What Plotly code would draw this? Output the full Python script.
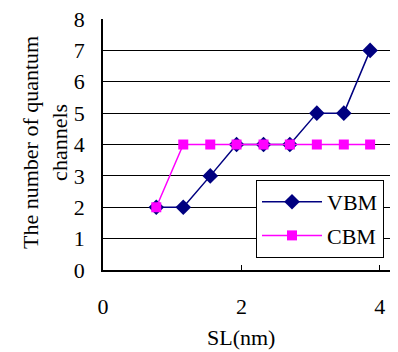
import plotly.graph_objects as go

sl_nm = [0.77, 1.16, 1.55, 1.93, 2.32, 2.70, 3.09, 3.48, 3.86]
vbm = [2, 2, 3, 4, 4, 4, 5, 5, 7]
cbm = [2, 4, 4, 4, 4, 4, 4, 4, 4]

FONT = "Liberation Serif, Times New Roman, serif"
OFF = 8  # page body margin
W, H = 398 - OFF, 352 - OFF
L = 103 - OFF
T = 19 - OFF
B = H - (270 - OFF)
R = W - (396 - OFF)
PW, PH = W - L - R, H - T - B

def px_x(p):
    return (p - OFF - L) / PW

def px_y(p):
    return (H - B - (p - OFF)) / PH

fig = go.Figure()
fig.add_trace(go.Scatter(x=sl_nm, y=vbm, name="VBM", mode="lines+markers",
                         legendgroup="a",
                         line=dict(color="#000080", width=1.5),
                         marker=dict(symbol="diamond", size=12, color="#000080")))
fig.add_trace(go.Scatter(x=sl_nm, y=cbm, name="CBM", mode="lines+markers",
                         legendgroup="b",
                         line=dict(color="#FF00FF", width=1.5),
                         marker=dict(symbol="square", size=10, color="#FF00FF")))

fig.update_layout(
    width=W, height=H,
    margin=dict(l=L, r=R, t=T, b=B, autoexpand=False),
    paper_bgcolor="white", plot_bgcolor="white",
    font=dict(family=FONT, size=22, color="black"),
    legend=dict(x=px_x(256), y=px_y(180), xanchor="left", yanchor="top",
                bordercolor="black", borderwidth=1, bgcolor="white",
                font=dict(size=22), itemwidth=60, tracegroupgap=2),
    xaxis=dict(range=[0, PW / 69.2], tickvals=[0, 2, 4], ticks="inside", ticklen=5,
               tickcolor="black", showline=True, linecolor="black", linewidth=1.5,
               showgrid=False, zeroline=False, ticklabelstandoff=16, automargin=False),
    yaxis=dict(range=[0, 8.0005], tickvals=[0, 1, 2, 3, 4, 5, 6, 7, 8], ticks="",
               showline=True, linecolor="black", ticklabeloverflow="allow",
               linewidth=1.5, showgrid=True, gridcolor="black", gridwidth=1,
               zeroline=False, ticklabelstandoff=12, automargin=False),
    annotations=[
        dict(text="SL(nm)", xref="paper", yref="paper", x=px_x(241), y=px_y(337),
             xanchor="center", yanchor="middle", showarrow=False, font=dict(size=22)),
        dict(text="The number of quantum<br>channels", xref="paper", yref="paper",
             x=px_x(45), y=px_y(143), xanchor="center", yanchor="middle",
             textangle=-90, showarrow=False, font=dict(size=22)),
    ],
)

fig.write_html("out.html")
